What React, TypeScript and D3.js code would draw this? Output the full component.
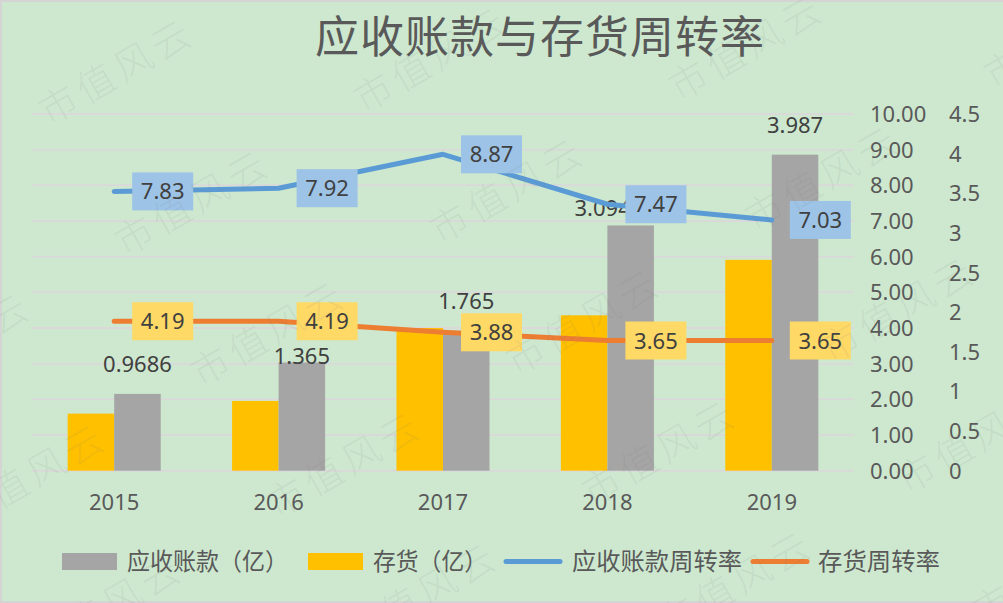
import React, { useEffect, useRef } from "react";
import * as d3 from "d3";

// yearly figures
const years = ["2015", "2016", "2017", "2018", "2019"];
const receivables = [0.9686, 1.365, 1.765, 3.094, 3.987]; // 应收账款（亿）
const inventory = [0.72, 0.88, 1.8, 1.96, 2.66]; // 存货（亿）
const receivableTurnover = [7.83, 7.92, 8.87, 7.47, 7.03];
const inventoryTurnover = [4.19, 4.19, 3.88, 3.65, 3.65];

const turnoverTicks = [0, 1, 2, 3, 4, 5, 6, 7, 8, 9, 10];
const amountTicks = [0, 0.5, 1, 1.5, 2, 2.5, 3, 3.5, 4, 4.5];

const titleText = "应收账款与存货周转率";
const legendLabels = ["应收账款（亿）", "存货（亿）", "应收账款周转率", "存货周转率"];

const W = 1003;
const H = 603;
const NUM_FONT = "'Noto Sans', 'Noto Sans CJK SC', sans-serif";
const CJK_FONT = "'Noto Sans CJK SC', 'Noto Sans', sans-serif";

const GREY = "#a5a5a5";
const GOLD = "#ffc000";
const BLUE = "#5b9bd5";
const ORANGE = "#ed7d31";

const App = () => {
  const ref = useRef<SVGSVGElement>(null);

  useEffect(() => {
    const svg = d3.select(ref.current);
    svg.selectAll("*").remove();

    const plot = { left: 32, right: 854, top: 114, bottom: 470.7 };

    svg.append("rect").attr("width", W).attr("height", H).attr("fill", "#cde8cf");
    svg.append("path")
      .attr("d", `M0,1H${W} M1,0V${H} M0,${H - 1}H${W}`)
      .attr("stroke", "#d4d4d4")
      .attr("stroke-width", 2)
      .attr("fill", "none");

    // title
    svg.append("text")
      .attr("x", 540)
      .attr("y", 53)
      .attr("text-anchor", "middle")
      .attr("font-family", CJK_FONT)
      .attr("font-size", 44)
      .attr("letter-spacing", 1)
      .attr("fill", "#595959")
      .text(titleText);

    const x0 = d3.scaleBand()
      .domain(years)
      .range([plot.left, plot.right])
      .paddingInner(0.434)
      .paddingOuter(0.217);
    const x1 = d3.scaleBand()
      .domain(["inventory", "receivables"])
      .range([0, x0.bandwidth()]);
    const cx = (i: number) => (x0(years[i]) as number) + x0.bandwidth() / 2;

    const yTurn = d3.scaleLinear().domain([0, 10]).range([plot.bottom, plot.top]);
    const yAmt = d3.scaleLinear().domain([0, 4.5]).range([plot.bottom, plot.top]);

    // gridlines
    svg.append("g")
      .selectAll("line")
      .data(turnoverTicks)
      .enter().append("line")
      .attr("x1", plot.left)
      .attr("x2", plot.right)
      .attr("y1", d => yTurn(d))
      .attr("y2", d => yTurn(d))
      .attr("stroke", "#d9d9d9")
      .attr("stroke-width", 2);

    // both value axes sit on the right
    svg.append("g")
      .attr("font-family", NUM_FONT)
      .attr("font-size", 22)
      .attr("fill", "#595959")
      .selectAll("text")
      .data(turnoverTicks)
      .enter().append("text")
      .attr("x", 870)
      .attr("y", d => yTurn(d) + 8)
      .text(d => d.toFixed(2));

    svg.append("g")
      .attr("font-family", NUM_FONT)
      .attr("font-size", 22)
      .attr("fill", "#595959")
      .selectAll("text")
      .data(amountTicks)
      .enter().append("text")
      .attr("x", 949)
      .attr("y", d => yAmt(d) + 8)
      .text(d => String(d));

    // category labels
    svg.append("g")
      .attr("font-family", NUM_FONT)
      .attr("font-size", 22)
      .attr("fill", "#595959")
      .attr("text-anchor", "middle")
      .selectAll("text")
      .data(years)
      .enter().append("text")
      .attr("x", (_, i) => cx(i))
      .attr("y", 510)
      .text(d => d);

    // clustered bars
    const bars = years.flatMap((yr, i) => [
      { yr, key: "inventory", v: inventory[i], color: GOLD },
      { yr, key: "receivables", v: receivables[i], color: GREY },
    ]);
    svg.append("g")
      .selectAll("rect")
      .data(bars)
      .enter().append("rect")
      .attr("x", d => (x0(d.yr) as number) + (x1(d.key) as number))
      .attr("y", d => yAmt(d.v))
      .attr("width", x1.bandwidth())
      .attr("height", d => yAmt(0) - yAmt(d.v))
      .attr("fill", d => d.color);

    // receivables labels, two of them were dragged off their default spot
    const nudge: Record<string, [number, number]> = { "2016": [0, 23], "2018": [-28, 13] };
    svg.append("g")
      .attr("font-family", NUM_FONT)
      .attr("font-size", 22)
      .attr("fill", "#404040")
      .attr("text-anchor", "middle")
      .selectAll("text")
      .data(years)
      .enter().append("text")
      .attr("x", d => (x0(d) as number) + (x1("receivables") as number) + x1.bandwidth() / 2 + (nudge[d]?.[0] ?? 0))
      .attr("y", (d, i) => yAmt(receivables[i]) - 22 + (nudge[d]?.[1] ?? 0))
      .text((_, i) => String(receivables[i]));

    // turnover lines
    const lineSeries = [
      { values: receivableTurnover, color: BLUE, box: "#9dc3e6" },
      { values: inventoryTurnover, color: ORANGE, box: "#ffd966" },
    ];
    lineSeries.forEach(s => {
      const line = d3.line<number>()
        .x((_, i) => cx(i))
        .y(d => yTurn(d));
      svg.append("path")
        .datum(s.values)
        .attr("d", line)
        .attr("fill", "none")
        .attr("stroke", s.color)
        .attr("stroke-width", 5)
        .attr("stroke-linejoin", "round")
        .attr("stroke-linecap", "round");
    });

    lineSeries.forEach(s => {
      const g = svg.append("g")
        .selectAll("g")
        .data(s.values)
        .enter().append("g")
        .attr("transform", (d, i) => `translate(${cx(i) + 18},${yTurn(d)})`);
      g.append("rect")
        .attr("x", 0)
        .attr("y", -19)
        .attr("width", 61)
        .attr("height", 38)
        .attr("fill", s.box);
      g.append("text")
        .attr("x", 30.5)
        .attr("y", 8)
        .attr("text-anchor", "middle")
        .attr("font-family", NUM_FONT)
        .attr("font-size", 22)
        .attr("fill", "#404040")
        .text(d => d.toFixed(2));
    });

    // legend: swatch start, text start, text width
    const legend = svg.append("g")
      .attr("font-family", CJK_FONT)
      .attr("font-size", 24)
      .attr("fill", "#595959");
    const legendKeys = [
      { color: GREY, kind: "bar", sx: 62, tx: 127, tw: 161 },
      { color: GOLD, kind: "bar", sx: 308, tx: 373, tw: 114 },
      { color: BLUE, kind: "line", sx: 503, tx: 572, tw: 170 },
      { color: ORANGE, kind: "line", sx: 750, tx: 818, tw: 122 },
    ];
    legendLabels.forEach((label, i) => {
      const k = legendKeys[i];
      if (k.kind === "bar") {
        legend.append("rect")
          .attr("x", k.sx).attr("y", 553).attr("width", 55).attr("height", 17)
          .attr("fill", k.color);
      } else {
        legend.append("line")
          .attr("x1", k.sx + 3).attr("x2", k.sx + 57)
          .attr("y1", 561.5).attr("y2", 561.5)
          .attr("stroke", k.color).attr("stroke-width", 5)
          .attr("stroke-linecap", "round");
      }
      legend.append("text")
        .attr("x", k.tx)
        .attr("y", 570)
        .attr("textLength", k.tw)
        .attr("lengthAdjust", "spacingAndGlyphs")
        .text(label);
    });

    // repeated watermark
    const marks: [number, number][] = [];
    for (let r = -1; r < 6; r++) {
      for (let c = -2; c < 5; c++) {
        const mx = 117 + c * 315 + r * 76;
        const my = 72 - c * 12 + r * 131;
        if (mx > -80 && mx < W + 80 && my > -60 && my < H + 60) marks.push([mx, my]);
      }
    }
    svg.append("g")
      .attr("font-family", CJK_FONT)
      .attr("font-size", 38)
      .attr("font-weight", 300)
      .attr("letter-spacing", 5)
      .attr("fill", "#7a7a7a")
      .attr("fill-opacity", 0.1)
      .attr("text-anchor", "middle")
      .selectAll("text")
      .data(marks)
      .enter().append("text")
      .attr("transform", d => `translate(${d[0]},${d[1]}) rotate(-30)`)
      .attr("y", 13)
      .text("市值风云");
  }, []);

  return (
    <svg
      ref={ref}
      width={W}
      height={H}
      style={{ position: "absolute", left: 0, top: 0, display: "block" }}
    ></svg>
  );
};

export default App;
